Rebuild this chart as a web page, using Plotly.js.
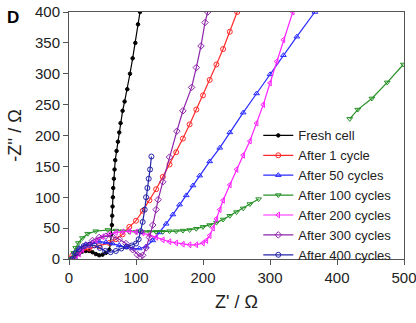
<!DOCTYPE html>
<html><head><meta charset="utf-8">
<script src="https://cdn.plot.ly/plotly-3.0.1.min.js"></script>
<style>html,body{margin:0;padding:0;background:#fff}#c{width:416px;height:323px}</style>
</head><body><div id="c"></div>
<script>
const seriesNames = ["Fresh cell","After 1 cycle","After 50 cycles","After 100 cycles","After 200 cycles","After 300 cycles","After 400 cycles"];
const xTicks = [0,100,200,300,400,500];
const yTicks = [0,50,100,150,200,250,300,350,400];

const freshX = [5,10,15,20,25,30,35,40,45,50,55,60,62,63,64,64.5,65,65.5,66,67,68,69,71,73,75,77,80,83,87,91,95,99,103,106];
const freshY = [0,5,9,12,13,13,11,8,6,7,10,15,25,40,55,70,85,100,115,130,145,160,175,190,205,220,240,255,275,300,325,350,380,400];

const c1X = [0,5,15,30,45,60,70,80,90,100,110,120,130,140,150,160,170,180,190,200,210,220,230,240,251];
const c1Y = [0,6,12,17,21,26,32,40,52,62,78,95,113,133,153,173,195,218,242,265,290,315,340,368,400];

const c50X = [3,8,15,25,35,45,55,65,75,85,95,105,115,125,135,145,155,165,175,185,195,210,225,240,260,280,300,320,340,367];
const c50Y = [0,10,18,24,27,28,27,25,22,19,17,17,20,30,43,57,72,88,103,119,135,158,180,205,237,268,299,330,360,400];

const c100X = [4,7,10,14,20,28,40,58,70,80,90,100,110,120,130,140,150,160,170,180,190,200,210,220,230,240,250,260,270,283,null,419,431,452,475,499];
const c100Y = [0,10,18,26,34,41,45,47,46,45,44,44,44,44,44,44,45,45,46,47,49,52,55,59,64,70,76,82,89,97,null,227,242,260,286,315];

const c200X = [10,15,20,30,40,50,60,70,80,90,100,110,120,130,140,150,160,170,180,190,200,205,210,215,220,225,230,240,250,260,270,280,290,300,310,320,334];
const c200Y = [0,8,15,22,30,36,40,43,44,45,44,42,39,35,31,28,26,24,23,23,26,30,38,50,65,80,95,120,145,168,191,220,250,285,320,355,400];

const c300X = [8,15,25,35,45,55,65,75,85,95,102,106,110,115,120,125,130,133,140,150,161,170,183,190,197,203,207];
const c300Y = [0,10,22,30,35,37,36,32,25,15,7,4,6,18,35,55,80,96,125,165,207,240,278,310,345,383,400];

const c400X = [5,10,15,22,30,38,46,54,62,70,78,86,94,100,104,107,110,113,115,117,119,121,123];
const c400Y = [0,10,16,21,23,22,18,13,11,13,17,20,22,25,32,45,60,80,100,115,130,145,166];

const xs = [freshX,c1X,c50X,c100X,c200X,c300X,c400X];
const ys = [freshY,c1Y,c50Y,c100Y,c200Y,c300Y,c400Y];
const colors = ["#000000","#ff2a2a","#2a2aff","#259025","#ff22ff","#8e24aa","#2323a8"];
const symbols = ["circle","circle-open","triangle-up-open","triangle-down-open","triangle-left-open","diamond-open","circle-open"];
const sizes = [3.5,5,5,5,5,5,5];

const traces = seriesNames.map((n,i)=>({
  type:"scatter", mode:"lines+markers", name:n, x:xs[i], y:ys[i],
  line:{color:colors[i], width:1.2},
  marker:{color:colors[i], symbol:symbols[i], size:sizes[i], line:{width:1,color:colors[i]}},
  connectgaps:false, cliponaxis:true
}));

const F = "Arial, 'Liberation Sans', sans-serif";
const layout = {
  width:416, height:323,
  margin:{l:69, r:12, t:12, b:64},
  paper_bgcolor:"#fff", plot_bgcolor:"#fff",
  font:{family:F, color:"#222", size:13},
  showlegend:true,
  legend:{x:0.565, y:0.561, xanchor:"left", yanchor:"top", bgcolor:"rgba(0,0,0,0)",
          font:{family:F, size:13, color:"#222"}, itemwidth:30, tracegroupgap:0},
  xaxis:{range:[0,500], tickvals:xTicks, ticktext:xTicks.map(String), showgrid:false, zeroline:false,
         showline:true, mirror:true, linecolor:"#555", linewidth:1, ticklabeloverflow:"allow",
         ticks:"outside", ticklen:5, tickcolor:"#555", tickfont:{size:15, family:F, color:"#222"},
         title:{text:"Z' / Ω", font:{size:18, family:F, color:"#222"}, standoff:10}},
  yaxis:{range:[0,400], tickvals:yTicks, ticktext:yTicks.map(String), showgrid:false, zeroline:false,
         showline:true, mirror:true, linecolor:"#555", linewidth:1,
         ticks:"outside", ticklen:5, tickcolor:"#555", tickfont:{size:15, family:F, color:"#222"},
         title:{text:"-Z'' / Ω", font:{size:18, family:F, color:"#222"}, standoff:8}},
  annotations:[{text:"<b>D</b>", xref:"paper", yref:"paper", x:-0.19, y:1.025, xanchor:"left", yanchor:"top",
                showarrow:false, font:{size:17, family:F, color:"#000"}}]
};
Plotly.newPlot("c", traces, layout, {staticPlot:true, displayModeBar:false});
</script></body></html>
